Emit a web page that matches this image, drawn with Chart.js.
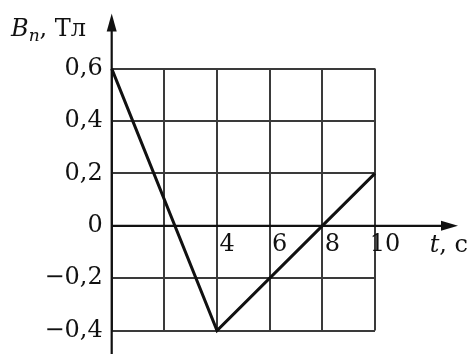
<!DOCTYPE html>
<html>
<head>
<meta charset="utf-8">
<script src="https://cdn.jsdelivr.net/npm/chart.js@4"></script>
<style>
  html, body { margin: 0; padding: 0; background: #fff; }
  #wrap { width: 471px; height: 354px; }
</style>
</head>
<body>
<div id="wrap"><canvas id="chart"></canvas></div>
<script>
// B_n(t): broken line through three points
const timeValues = [0, 4, 10];
const fieldValues = [0.6, -0.4, 0.2];

// grid and tick labels
const xGridValues = [0, 2, 4, 6, 8, 10];
const xLabeledValues = [4, 6, 8, 10];
const yGridValues = [-0.4, -0.2, 0, 0.2, 0.4, 0.6];

const serif = '"DejaVu Serif", "Liberation Serif", serif';
const ink = '#111';
const gridInk = '#3a3a3a';

function commaLabel(v) {
  if (Math.abs(v) < 1e-9) return '0';
  return (v < 0 ? '\u2212' : '') + Math.abs(v).toFixed(1).replace('.', ',');
}

// axes with arrows and the two axis titles
const axisArrows = {
  id: 'axisArrows',
  beforeDatasetsDraw(chart) {
    const { ctx, scales: { x, y } } = chart;
    const x0 = x.getPixelForValue(0);
    const y0 = y.getPixelForValue(0);
    const topTip = y.top - 55;
    const rightTip = x.right + 83;

    ctx.save();
    ctx.strokeStyle = ink;
    ctx.fillStyle = ink;
    ctx.lineWidth = 2.2;
    ctx.beginPath();
    ctx.moveTo(x0, chart.height);
    ctx.lineTo(x0, topTip + 10);
    ctx.moveTo(x0, y0);
    ctx.lineTo(rightTip - 10, y0);
    ctx.stroke();

    ctx.beginPath();
    ctx.moveTo(x0, topTip);
    ctx.lineTo(x0 - 5, topTip + 18);
    ctx.lineTo(x0 + 5, topTip + 18);
    ctx.closePath();
    ctx.fill();

    ctx.beginPath();
    ctx.moveTo(rightTip, y0);
    ctx.lineTo(rightTip - 17, y0 - 5);
    ctx.lineTo(rightTip - 17, y0 + 5);
    ctx.closePath();
    ctx.fill();

    // B_n, Тл
    ctx.textBaseline = 'alphabetic';
    ctx.textAlign = 'left';
    let tx = 11;
    const ty = 36;
    ctx.font = 'italic 24px ' + serif;
    ctx.fillText('B', tx, ty);
    tx += ctx.measureText('B').width;
    ctx.font = 'italic 17px ' + serif;
    ctx.fillText('n', tx, ty + 5);
    tx += ctx.measureText('n').width;
    ctx.font = '24px ' + serif;
    ctx.fillText(', Тл', tx, ty);

    // t, c
    ctx.textAlign = 'right';
    ctx.font = '24px ' + serif;
    const tail = ', c';
    const tailW = ctx.measureText(tail).width;
    ctx.fillText(tail, chart.width - 3, 252);
    ctx.font = 'italic 24px ' + serif;
    ctx.fillText('t', chart.width - 3 - tailW, 252);
    ctx.restore();
  }
};

new Chart(document.getElementById('chart'), {
  type: 'line',
  data: {
    datasets: [{
      data: timeValues.map((t, i) => ({ x: t, y: fieldValues[i] })),
      borderColor: ink,
      borderWidth: 3,
      pointRadius: 0,
      tension: 0,
      fill: false,
      clip: false
    }]
  },
  options: {
    responsive: true,
    maintainAspectRatio: false,
    animation: false,
    layout: { padding: { top: 68.6, right: 96, bottom: 0, left: 0 } },
    plugins: { legend: { display: false }, tooltip: { enabled: false } },
    scales: {
      x: {
        type: 'linear',
        position: { y: 0 },
        min: 0,
        max: 10,
        afterBuildTicks: (scale) => { scale.ticks = xGridValues.map(v => ({ value: v })); },
        afterFit: (scale) => { scale.height = 22; },
        grid: { color: gridInk, lineWidth: 2, drawTicks: false },
        border: { display: false },
        ticks: {
          padding: 5,
          labelOffset: 10,
          autoSkip: false,
          maxRotation: 0,
          color: ink,
          font: { family: serif, size: 24 },
          callback: (v) => xLabeledValues.includes(v) ? String(v) : ''
        }
      },
      y: {
        type: 'linear',
        position: 'left',
        min: -0.4,
        max: 0.6,
        afterBuildTicks: (scale) => { scale.ticks = yGridValues.map(v => ({ value: v })); },
        afterFit: (scale) => { scale.width = 111.7; },
        grid: { color: gridInk, lineWidth: 2, drawTicks: false },
        border: { display: false },
        ticks: {
          padding: 9,
          color: ink,
          font: { family: serif, size: 24 },
          callback: (v) => commaLabel(v)
        }
      }
    }
  },
  plugins: [axisArrows]
});
</script>
</body>
</html>
